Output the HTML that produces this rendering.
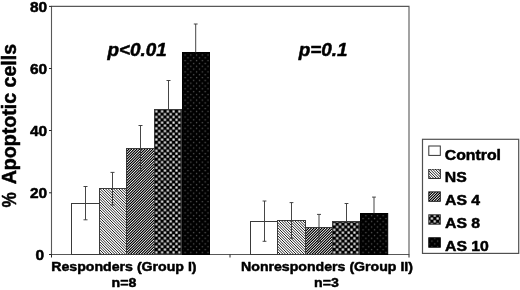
<!DOCTYPE html>
<html><head><meta charset="utf-8">
<style>
html,body{margin:0;padding:0;background:#fff;}
svg{display:block;}
text{font-family:"Liberation Sans",Arial,sans-serif;font-weight:bold;fill:#000;stroke:#000;stroke-width:0.5px;stroke-linejoin:round;}
</style></head><body>
<svg width="520" height="290" viewBox="0 0 520 290">
<defs>
<pattern id="pNS" width="8" height="1.886" patternUnits="userSpaceOnUse" patternTransform="rotate(45)">
<rect width="8" height="1.886" fill="#fff"/>
<rect width="8" height="0.74" fill="#000"/>
</pattern>
<pattern id="pAS4" width="8" height="1.886" patternUnits="userSpaceOnUse" patternTransform="rotate(-45)">
<rect width="8" height="1.886" fill="#fff"/>
<rect width="8" height="1.15" fill="#000"/>
</pattern>
<pattern id="pAS8" x="154.9" y="109.9" width="5.74" height="5.64" patternUnits="userSpaceOnUse">
<rect width="5.74" height="5.64" fill="#000"/>
<rect x="0.4" y="0.4" width="2.15" height="2.15" fill="#f4f4f4"/>
<rect x="3.27" y="3.22" width="2.15" height="2.15" fill="#f4f4f4"/>
</pattern>
<pattern id="pAS10" x="154.9" y="109.9" width="5.74" height="5.64" patternUnits="userSpaceOnUse">
<rect width="5.74" height="5.64" fill="#000"/>
<rect x="0.85" y="0.85" width="1.3" height="1.3" fill="#555"/>
<rect x="3.72" y="3.67" width="1.3" height="1.3" fill="#555"/>
</pattern>
<filter id="ct" x="0" y="0" width="100%" height="100%" color-interpolation-filters="sRGB">
<feComponentTransfer><feFuncR type="linear" slope="1.5" intercept="-0.2"/><feFuncG type="linear" slope="1.5" intercept="-0.2"/><feFuncB type="linear" slope="1.5" intercept="-0.2"/></feComponentTransfer>
</filter>
</defs>
<rect width="520" height="290" fill="#fff"/>
<!-- plot frame -->
<path d="M51.5,6.4 H409 V254.5 H51.5 Z" fill="none" stroke="#585858" stroke-width="1.1"/>
<!-- ticks -->
<g stroke="#222" stroke-width="1">
<path d="M49,6.4 H51.5 M49,68.5 H51.5 M49,130.5 H51.5 M49,192.8 H51.5 M49,254.5 H51.5"/>
<path d="M51.5,254.5 V257.5 M230,254.5 V257.5 M409,254.5 V257.5"/>
</g>
<!-- y labels -->
<g font-size="14.6" text-anchor="end">
<text transform="translate(47.2,11.6) scale(1.06,1)">80</text>
<text transform="translate(47.2,73.5) scale(1.06,1)">60</text>
<text transform="translate(47.2,135.6) scale(1.06,1)">40</text>
<text transform="translate(47.2,197.7) scale(1.06,1)">20</text>
<text transform="translate(44.1,260) scale(1.06,1)">0</text>
</g>
<text font-size="19.6" transform="translate(15.7,207.6) rotate(-90) scale(0.873,1)">%</text>
<text font-size="19.6" transform="translate(15.7,184.3) rotate(-90)">Apoptotic cells</text>
<!-- Group I bars -->
<g stroke="#3a3a3a" stroke-width="1">
<rect x="71.5" y="203.5" width="28.0" height="51.0" fill="#fff"/>
<rect x="99.5" y="188.5" width="27.0" height="66.0" fill="url(#pNS)" stroke="none" filter="url(#ct)"/>
<rect x="99.5" y="188.5" width="27.0" height="66.0" fill="none"/>
<rect x="126.5" y="148.5" width="28.0" height="106.0" fill="url(#pAS4)" stroke="none" filter="url(#ct)"/>
<rect x="126.5" y="148.5" width="28.0" height="106.0" fill="none"/>
<rect x="154.5" y="109.5" width="27.0" height="145.0" fill="url(#pAS8)"/>
<rect x="182.5" y="52.5" width="27.0" height="202.0" fill="url(#pAS10)" stroke="#000"/>
<!-- Group II bars -->
<rect x="250.5" y="221.5" width="27.0" height="33.0" fill="#fff"/>
<rect x="277.5" y="220.5" width="28.0" height="34.0" fill="url(#pNS)" stroke="none" filter="url(#ct)"/>
<rect x="277.5" y="220.5" width="28.0" height="34.0" fill="none"/>
<rect x="305.5" y="227.5" width="27.0" height="27.0" fill="url(#pAS4)" stroke="none" filter="url(#ct)"/>
<rect x="305.5" y="227.5" width="27.0" height="27.0" fill="none"/>
<rect x="332.5" y="221.5" width="27.0" height="33.0" fill="url(#pAS8)"/>
<rect x="360.5" y="213.5" width="27.2" height="41.0" fill="url(#pAS10)" stroke="#000"/>
</g>
<!-- error bars -->
<g stroke="#3c3c3c" stroke-width="0.95" fill="none">
<path d="M85.5,186.5 V219.8 M83.5,186.5 H87.5 M83.5,219.8 H87.5"/>
<path d="M112.5,172.4 V205.0 M110.5,172.4 H114.5 M110.5,205.0 H114.5"/>
<path d="M140.5,125.5 V170.7 M138.5,125.5 H142.5 M138.5,170.7 H142.5"/>
<path d="M168.5,80.5 V109.5 M166.5,80.5 H170.5"/>
<path d="M195.7,24.0 V52.5 M193.8,24.0 H197.6"/>
<path d="M264.5,201.0 V241.3 M262.6,201.0 H266.4 M262.6,241.3 H266.4"/>
<path d="M291.5,202.6 V238.3 M289.6,202.6 H293.4 M289.6,238.3 H293.4"/>
<path d="M319.0,214.4 V241.7 M317,214.4 H321 M317,241.7 H321"/>
<path d="M346.5,203.5 V221.5 M344.6,203.5 H348.4"/>
<path d="M374.0,197.1 V213.5 M372.1,197.1 H375.9"/>
</g>
<!-- p values -->
<g font-size="18.9" font-style="italic">
<text x="107.5" y="55.6">p&lt;0.01</text>
<text x="298.7" y="55.6">p=0.1</text>
</g>
<!-- x labels -->
<g font-size="13.6" text-anchor="middle">
<text transform="translate(123.9,270.8) scale(1.04,1)">Responders (Group I)</text>
<text transform="translate(124,287.3) scale(1.04,1)">n=8</text>
<text transform="translate(327,270.8) scale(1.04,1)">Nonresponders (Group II)</text>
<text transform="translate(326.4,287.3) scale(1.04,1)">n=3</text>
</g>
<!-- legend -->
<rect x="422.5" y="139.3" width="96.2" height="114.1" fill="#fff" stroke="#505050" stroke-width="1.2"/>
<g stroke="#333" stroke-width="1">
<rect x="428.8" y="146" width="11.5" height="9.4" fill="#fff"/>
<rect x="428.8" y="169" width="11.5" height="9.4" fill="url(#pNS)" filter="url(#ct)"/>
<rect x="428.8" y="191.9" width="11.5" height="9.4" fill="url(#pAS4)" filter="url(#ct)"/>
<rect x="428.8" y="214.8" width="11.5" height="9.4" fill="url(#pAS8)"/>
<rect x="428.8" y="237.8" width="11.5" height="9.4" fill="url(#pAS10)" stroke="#000"/>
</g>
<g font-size="14.8">
<text transform="translate(444.8,159.5) scale(1.068,1)">Control</text>
<text transform="translate(444.8,182.3) scale(1.068,1)">NS</text>
<text transform="translate(445,205.2) scale(1.068,1)">AS 4</text>
<text transform="translate(445,228) scale(1.068,1)">AS 8</text>
<text transform="translate(445,250.8) scale(1.068,1)">AS 10</text>
</g>
</svg>
</body></html>
